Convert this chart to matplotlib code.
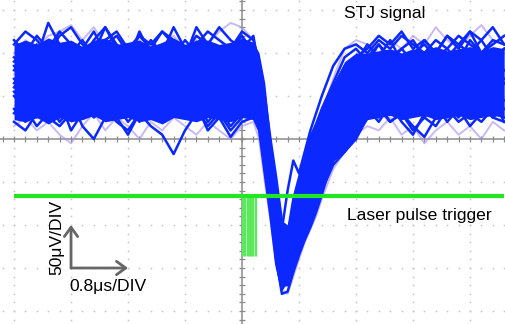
import numpy as np
import matplotlib
matplotlib.use("Agg")
import matplotlib.pyplot as plt

plt.rcParams['font.family'] = ['Liberation Sans', 'DejaVu Sans']

# Time axis in divisions (0.8 us/DIV); finer sampling across the pulse
t_div = ([-4.0, -3.8, -3.6, -3.4, -3.2, -3.0, -2.8, -2.6, -2.4, -2.2, -2.0,
          -1.8, -1.6, -1.4, -1.2, -1.0, -0.8, -0.6, -0.4, -0.2, 0.0, 0.2]
         + [0.3, 0.4, 0.5, 0.6, 0.7, 0.8, 0.9, 1.0, 1.1, 1.2, 1.3]
         + [1.4, 1.6, 1.8, 2.0, 2.2, 2.4, 2.6, 2.8, 3.0, 3.2, 3.4, 3.6, 3.8,
            4.0, 4.2, 4.4, 4.6])

# Dense core of the overlaid STJ traces (divisions, 50 uV/DIV)
core_upper = ([2.2, 2.3, 2.2, 2.35, 2.25, 2.3, 2.15, 2.3, 2.35, 2.2, 2.25, 2.3,
               2.15, 2.25, 2.35, 2.2, 2.3, 2.3, 2.2, 2.25, 2.35, 2.25]
              + [2.0, 1.3, 0.0, -0.95, -1.9, -2.0, -1.4, -0.95, -0.5, 0.0, 0.35,
                 0.65, 1.25, 1.8, 2.0]
              + [2.0, 2.05, 2.1, 2.0, 2.1, 2.05, 2.15, 2.05, 2.1, 2.15, 2.05, 2.15, 2.1])
core_lower = ([0.45, 0.4, 0.5, 0.35, 0.5, 0.4, 0.45, 0.55, 0.4, 0.45, 0.5, 0.4,
               0.45, 0.35, 0.5, 0.45, 0.4, 0.5, 0.45, 0.4, 0.5, 0.45]
              + [0.2, -0.6, -1.4, -2.6, -3.4, -3.4, -3.0, -2.6, -2.3, -2.0, -1.65,
                 -1.25, -0.45, -0.25, 0.05]
              + [0.45, 0.5, 0.55, 0.45, 0.5, 0.55, 0.45, 0.5, 0.55, 0.45, 0.5, 0.55, 0.5])

# Individual STJ traces
stj_traces = [
    [1.8, 2.1, 1.9, 2.7, 2.2, 2.0, 2.3, 1.9, 2.2, 2.4, 2.0, 2.2, 1.8, 2.1, 1.9, 2.3, 2.0, 2.2, 1.9, 2.1, 2.4, 2.0,
     1.3, 0.6, -0.3, -1.2, -2.0, -2.2, -1.4, -0.9, -0.4, 0.05, 0.35, 0.7, 1.3, 1.9, 2.1,
     1.8, 2.2, 1.9, 2.1, 1.8, 2.3, 2.0, 1.9, 2.2, 2.0, 2.3, 1.9, 2.1],
    [1.2, 1.6, 1.3, 1.5, 1.1, 1.4, 1.7, 1.3, 1.5, 1.2, 1.6, 1.4, 1.1, 1.5, 1.3, 1.7, 1.4, 1.2, 1.5, 1.6, 1.3, 1.4,
     1.0, 0.0, -0.9, -1.9, -2.8, -2.9, -2.3, -1.8, -1.3, -0.9, -0.5, -0.1, 0.6, 1.1, 1.4,
     1.2, 1.5, 1.3, 1.6, 1.2, 1.4, 1.7, 1.3, 1.5, 1.2, 1.6, 1.4, 1.3],
    [0.6, 0.9, 0.5, 0.8, 0.4, 0.7, 1.0, 0.6, 0.9, 0.5, 0.8, 0.6, 0.3, 0.1, -0.35, 0.2, 0.6, 0.8, 0.5, 0.9, 0.7, 0.8,
     0.6, -0.5, -1.4, -2.6, -3.4, -3.4, -3.0, -2.6, -2.3, -2.0, -1.6, -1.2, -0.5, -0.2, 0.2,
     0.7, 0.5, 0.8, 0.4, 0.1, 0.6, 0.9, 0.5, 0.8, 0.6, 0.4, 0.7, 0.5],
    [1.6, 1.9, 2.2, 1.8, 2.0, 1.7, 2.1, 2.5, 2.0, 1.8, 2.1, 1.9, 2.3, 2.0, 2.6, 2.1, 1.8, 2.0, 1.7, 2.1, 1.9, 1.8,
     1.1, 0.2, -0.8, -1.9, -2.9, -3.1, -2.5, -2.0, -1.5, -1.0, -0.6, -0.1, 0.7, 1.3, 1.7,
     1.9, 2.2, 1.8, 2.1, 2.3, 1.9, 2.0, 2.4, 2.1, 2.5, 2.0, 2.2, 2.4],
    [1.1, 0.8, 1.2, 0.9, 0.5, 0.9, 1.2, 0.8, 1.1, 0.7, 1.0, 0.4, 0.9, 1.2, 0.8, 1.0, 0.6, 1.1, 0.8, 0.5, 0.9, 1.0,
     0.4, -0.7, -1.6, -2.8, -3.6, -3.55, -3.1, -2.7, -2.35, -2.05, -1.7, -1.3, -0.4, -0.1, 0.3,
     0.8, 1.1, 0.7, 1.0, 0.6, 0.9, 1.2, 0.8, 0.5, 0.9, 1.1, 0.7, 0.9],
    [1.7, 1.4, 1.8, 2.0, 1.5, 1.3, 1.7, 1.9, 1.6, 1.4, 1.8, 1.6, 1.9, 1.5, 1.8, 1.3, 1.7, 1.9, 1.6, 1.4, 1.8, 1.7,
     1.5, 1.0, 0.0, -0.9, -1.9, -2.3, -1.5, -1.0, -0.5, -0.05, 0.3, 0.6, 1.2, 1.7, 1.8,
     1.6, 1.9, 1.5, 1.8, 1.6, 1.4, 1.8, 1.6, 1.9, 1.5, 1.7, 1.8, 1.6],
    [0.4, 0.2, 0.6, 0.8, 0.5, 0.9, 0.3, 0.0, 0.5, 0.8, 0.4, 0.7, 1.0, 0.6, 0.8, 0.5, 0.9, 0.4, 0.7, 0.3, 0.6, 0.7,
     0.5, -0.4, -1.2, -2.2, -3.1, -3.2, -2.7, -2.2, -1.8, -1.4, -1.0, -0.6, 0.1, 0.6, 0.9,
     0.7, 0.4, 0.8, 0.6, 0.9, 0.5, 0.3, 0.7, 0.9, 0.6, 0.8, 0.5, 0.7],
    [2.3, 2.0, 2.4, 2.1, 2.5, 2.2, 1.9, 2.3, 2.6, 2.2, 2.0, 2.4, 2.1, 2.5, 2.2, 2.0, 2.4, 2.2, 2.6, 2.3, 2.1, 2.4,
     1.6, 0.8, -0.2, -1.1, -2.1, -1.2, -0.5, -0.8, -0.3, 0.2, 0.6, 1.0, 1.7, 2.1, 2.2,
     2.0, 2.3, 2.1, 2.4, 2.2, 2.0, 2.3, 2.1, 2.4, 2.2, 2.0, 2.3, 2.2],
    [1.4, 1.1, 1.5, 1.2, 1.6, 1.3, 1.0, 1.4, 1.7, 1.3, 1.1, 1.5, 1.2, 0.9, 1.3, 1.6, 1.2, 1.4, 1.0, 1.3, 1.5, 1.2,
     0.8, -0.3, -1.3, -2.4, -3.3, -3.3, -2.9, -2.5, -2.1, -1.8, -1.4, -1.0, -0.3, 0.2, 0.7,
     1.0, 1.3, 1.1, 1.4, 1.2, 0.9, 1.3, 1.5, 1.1, 1.4, 1.2, 1.0, 1.3],
    [1.9, 1.7, 2.0, 1.8, 2.1, 1.9, 1.6, 2.0, 2.6, 2.1, 1.8, 2.5, 2.0, 1.7, 2.1, 1.9, 2.6, 2.2, 1.9, 2.1, 1.8, 2.0,
     1.4, 0.4, -0.6, -1.6, -2.5, -2.7, -2.0, -1.5, -1.0, -0.6, -0.2, 0.3, 0.9, 1.5, 1.8,
     2.2, 1.9, 2.3, 1.8, 2.0, 2.2, 1.9, 2.1, 1.8, 2.3, 2.0, 1.9, 2.1],
    [1.0, 0.7, 0.3, 0.6, 0.9, 0.2, 0.6, 1.0, 0.7, 0.5, 0.1, 0.6, 0.9, 0.5, 0.8, 1.0, 0.7, 0.3, 0.6, 0.2, 0.5, 0.9,
     0.3, -0.6, -1.5, -2.5, -3.2, -3.3, -3.0, -2.6, -2.3, -1.9, -1.6, -1.2, -0.6, -0.3, 0.1,
     0.5, 0.8, 0.4, 0.6, 0.2, 0.5, 0.8, 0.4, 0.7, 0.3, 0.6, 0.9, 0.4],
    [1.3, 1.6, 1.2, 1.0, 1.4, 1.7, 1.3, 1.1, 1.5, 1.8, 1.4, 1.2, 1.6, 1.3, 1.0, 1.4, 1.2, 1.6, 1.3, 1.1, 1.2, 1.5,
     1.2, 0.3, -0.6, -1.5, -2.3, -2.4, -1.6, -1.1, -0.6, -0.2, 0.2, 0.5, 1.1, 1.5, 1.6,
     1.4, 1.1, 1.5, 1.3, 1.0, 1.4, 1.2, 1.6, 1.3, 1.1, 1.5, 1.2, 1.4],
    [2.2, 2.5, 2.3, 2.0, 2.4, 2.6, 2.2, 2.0, 2.3, 2.5, 2.1, 2.4, 2.2, 2.5, 2.3, 2.0, 2.2, 2.5, 2.3, 2.1, 2.5, 2.3,
     1.8, 0.9, -0.4, -1.4, -2.4, -2.6, -2.1, -1.5, -1.1, -0.7, -0.3, 0.1, 0.8, 1.4, 1.9,
     2.1, 2.4, 2.2, 2.5, 2.1, 2.3, 2.0, 2.4, 2.2, 2.5, 2.3, 2.6, 2.2],
    [0.7, 0.4, 0.8, 0.5, 0.3, 0.6, 0.9, 0.5, 0.7, 0.4, 0.2, 0.6, 0.8, 0.4, 0.7, 0.5, 0.8, 0.2, 0.5, 0.05, 0.4, 0.5,
     0.2, -0.8, -1.8, -2.9, -3.5, -3.3, -2.9, -2.5, -2.2, -1.9, -1.5, -1.1, -0.5, -0.3, 0.0,
     0.5, 0.7, 0.4, 0.6, 0.3, 0.05, 0.5, 0.7, 0.4, 0.6, 0.8, 0.5, 0.4],
]

# Fainter persistence traces
faint_traces = [
    [2.0, 2.3, 2.1, 2.4, 2.5, 2.65, 2.3, 2.6, 2.2, 2.4, 2.1, 2.3, 2.0, 2.2, 2.4, 2.1, 2.3, 2.2, 2.5, 2.7, 2.6, 2.3,
     1.4, 0.4, -0.6, -1.5, -2.4, -2.6, -1.9, -1.3, -0.8, -0.3, 0.2, 0.6, 1.4, 2.1, 2.3,
     2.2, 2.0, 2.3, 2.1, 2.4, 2.2, 2.6, 2.3, 2.1, 2.4, 2.65, 2.3, 2.2],
    [0.3, 0.5, 0.2, 0.4, 0.1, -0.1, 0.3, 0.6, 0.2, 0.5, 0.3, 0.0, 0.4, 0.2, 0.5, 0.3, 0.1, 0.4, 0.2, 0.0, 0.3, 0.4,
     0.0, -1.0, -1.9, -2.9, -3.5, -3.6, -3.2, -2.8, -2.4, -2.1, -1.8, -1.4, -0.7, -0.3, 0.1,
     0.3, 0.2, 0.5, 0.1, 0.3, -0.1, 0.2, 0.4, 0.1, 0.3, 0.0, 0.4, 0.2],
    [1.5, 1.8, 1.4, 1.7, 2.0, 1.6, 1.3, 1.7, 1.5, 1.9, 1.6, 1.4, 1.8, 1.5, 1.7, 1.4, 1.9, 1.6, 1.3, 1.7, 1.5, 1.6,
     1.2, 0.2, -0.8, -1.8, -2.7, -3.0, -2.4, -1.9, -1.5, -1.1, -0.7, -0.3, 0.5, 1.0, 1.4,
     1.6, 1.4, 1.8, 1.5, 1.7, 1.3, 1.6, 1.9, 1.5, 1.7, 1.4, 1.8, 1.6],
]

# Laser trigger channel
trig_span = [-4.0, 4.6]
trig_level = -1.33
trig_low = -2.72
trig_width = 0.25
trig_edges = [0.0, 0.02, 0.04, 0.06, 0.08, 0.1, 0.12, 0.14, 0.16, 0.18,
              0.2, 0.22, 0.24]

X0, X1 = -4.246, 4.632
Y0, Y1 = -4.302, 3.233

fig = plt.figure(figsize=(5.06, 3.24), dpi=100)
ax = fig.add_axes([0, 0, 1, 1])
ax.set_xlim(X0, X1)
ax.set_ylim(Y0, Y1)
ax.axis('off')

# Graticule: dotted division lines
dot_c = '#c4c4c4'
sub = np.arange(-4.2, 4.8, 0.2)
for gy in range(-4, 4):
    if gy == 0:
        continue
    ax.plot(sub, np.full_like(sub, gy), ls='none', marker='s', ms=1.1,
            color=dot_c, mew=0, zorder=1)
subv = np.arange(-4.4, 3.4, 0.2)
for gx in range(-4, 5):
    if gx == 0:
        continue
    ax.plot(np.full_like(subv, gx), subv, ls='none', marker='s', ms=1.1,
            color=dot_c, mew=0, zorder=1)

# Centre axes with minor ticks
axc = '#8c8c8c'
ax.axhline(0, color=axc, lw=1.1, zorder=2)
ax.axvline(0, color=axc, lw=1.1, zorder=2)
tx = np.arange(-4.2, 4.8, 0.2)
ax.vlines(tx, -0.07, 0.07, color=axc, lw=0.9, zorder=2)
ty = np.arange(-4.4, 3.4, 0.2)
ax.hlines(ty, -0.06, 0.06, color=axc, lw=0.9, zorder=2)

# STJ traces
blue = '#0a28ff'
for tr in faint_traces:
    ax.plot(t_div, tr, color='#a48af0', lw=1.4, alpha=0.6, zorder=2.5)
ax.fill_between(t_div, core_lower, core_upper, color=blue, lw=0, zorder=3)
for tr in stj_traces:
    ax.plot(t_div, tr, color=blue, lw=1.8, zorder=4, solid_joinstyle='round')

# Trigger trace
green = '#22e622'
ax.fill_between([0.0, trig_width], trig_low, trig_level, color='#c4f7c4',
                lw=0, zorder=5)
ax.vlines(trig_edges, trig_low, trig_level, color='#5ee85e', lw=0.9, zorder=5)
ax.plot(trig_span, [trig_level, trig_level], color=green, lw=3.0,
        solid_capstyle='butt', zorder=6)

# Labels
ax.text(2.51, 2.91, 'STJ signal', fontsize=12.6, ha='center', va='center',
        color='black', zorder=7)
ax.text(1.84, -1.88, 'Laser pulse trigger', fontsize=12.6, ha='left',
        va='baseline', color='black', zorder=7)
ax.text(-3.25, -2.28, '50μV/DIV', fontsize=12.6, rotation=90, ha='center',
        va='center', color='black', zorder=7)
ax.text(-2.35, -3.44, '0.8μs/DIV', fontsize=12.6, ha='center', va='center',
        color='black', zorder=7)

# Scale arrows: one division each
arrow_kw = dict(arrowstyle='->,head_length=0.55,head_width=0.4', lw=2.0,
                color='#666666', mutation_scale=12, shrinkA=0, shrinkB=0)
ax.annotate('', xy=(-3.0, -2.0), xytext=(-3.0, -3.0), arrowprops=arrow_kw,
            zorder=7)
ax.annotate('', xy=(-2.0, -3.0), xytext=(-3.0, -3.0), arrowprops=arrow_kw,
            zorder=7)

fig.savefig('out.png', dpi=100, facecolor='white')
